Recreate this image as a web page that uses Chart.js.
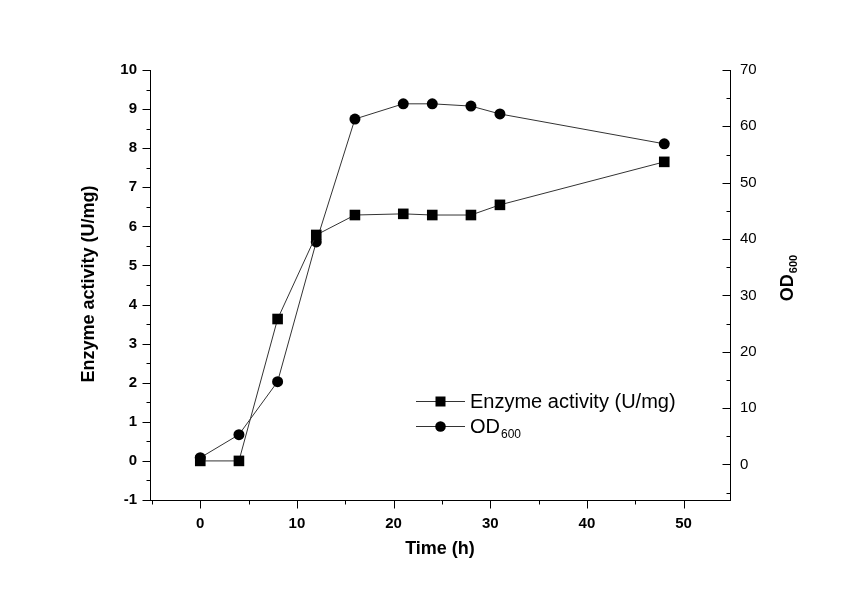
<!DOCTYPE html>
<html><head><meta charset="utf-8">
<script src="https://cdn.jsdelivr.net/npm/chart.js@4.4.0/dist/chart.umd.min.js"></script>
<style>html,body{margin:0;padding:0;background:#fff;}#wrap{width:848px;height:599px;position:relative;}</style>
</head><body><div id="wrap"><canvas id="c" width="848" height="599"></canvas></div>
<script>
const timeHours = [0, 4, 8, 12, 16, 21, 24, 28, 31, 48];
const enzymeActivity = [0, 0, 3.63, 5.78, 6.29, 6.32, 6.29, 6.29, 6.55, 7.65];
const od600 = [1.2, 5.3, 14.7, 39.5, 61.3, 64.0, 64.0, 63.6, 62.2, 56.9];
const xTickValues = [0, 10, 20, 30, 40, 50];
const xMinorValues = [-5, 5, 15, 25, 35, 45];
const leftTickValues = [-1, 0, 1, 2, 3, 4, 5, 6, 7, 8, 9, 10];
const leftMinorValues = [-0.5, 0.5, 1.5, 2.5, 3.5, 4.5, 5.5, 6.5, 7.5, 8.5, 9.5];
const rightTickValues = [0, 10, 20, 30, 40, 50, 60, 70];
const rightMinorValues = [-5, 5, 15, 25, 35, 45, 55, 65];

const FONT = '"Liberation Sans", Arial, sans-serif';

const tickPlugin = {
  id: 'originTicks',
  afterDraw(chart) {
    const ctx = chart.ctx;
    const xs = chart.scales.x, yl = chart.scales.y, yr = chart.scales.y1;
    ctx.save();
    ctx.strokeStyle = '#000';
    ctx.lineWidth = 1;
    ctx.beginPath();
    const xb = Math.round(xs.top) + 0.5;
    const addX = (vals, len) => vals.forEach(v => {
      if (v < xs.min || v > xs.max + 0.5) return;
      const p = Math.round(xs.getPixelForValue(v)) + 0.5;
      ctx.moveTo(p, xb); ctx.lineTo(p, xb + len);
    });
    addX(xTickValues, 8); addX(xMinorValues, 4);
    const lx = Math.round(yl.right) + 0.5;
    const addL = (vals, len) => vals.forEach(v => {
      const p = Math.round(yl.getPixelForValue(v)) + 0.5;
      ctx.moveTo(lx, p); ctx.lineTo(lx - len, p);
    });
    addL(leftTickValues, 8); addL(leftMinorValues, 4);
    const rx = Math.round(yr.left) + 0.5;
    const addR = (vals, len) => vals.forEach(v => {
      const p = Math.round(yr.getPixelForValue(v)) + 0.5;
      ctx.moveTo(rx, p); ctx.lineTo(rx - len, p);
    });
    addR(rightTickValues, 8); addR(rightMinorValues, 4);
    ctx.stroke();

    // legend
    const rows = [
      {y: 401, shape: 'rect', text: 'Enzyme activity (U/mg)'},
      {y: 426, shape: 'circle', text: 'OD', sub: '600'}
    ];
    rows.forEach(r => {
      ctx.strokeStyle = '#333';
      ctx.beginPath(); ctx.moveTo(416, r.y + 0.5); ctx.lineTo(465, r.y + 0.5); ctx.stroke();
      ctx.fillStyle = '#000';
      ctx.beginPath();
      if (r.shape === 'rect') ctx.rect(440.5 - 5, r.y + 0.5 - 5, 10, 10);
      else ctx.arc(440.5, r.y + 0.5, 5.3, 0, Math.PI * 2);
      ctx.fill();
      ctx.font = '20px ' + FONT;
      ctx.textAlign = 'left';
      ctx.textBaseline = 'alphabetic';
      ctx.fillText(r.text, 470, r.y + 7);
      if (r.sub) {
        const w = ctx.measureText(r.text).width;
        ctx.font = '12px ' + FONT;
        ctx.fillText(r.sub, 470 + w + 1, r.y + 12);
      }
    });

    // axis titles
    ctx.fillStyle = '#000';
    ctx.font = 'bold 18px ' + FONT;
    ctx.textAlign = 'center';
    ctx.textBaseline = 'middle';
    ctx.fillText('Time (h)', 440, 549);

    ctx.save();
    ctx.translate(89, 284);
    ctx.rotate(-Math.PI / 2);
    ctx.fillText('Enzyme activity (U/mg)', 0, 0);
    ctx.restore();

    ctx.save();
    ctx.translate(787, 278);
    ctx.rotate(-Math.PI / 2);
    ctx.font = 'bold 18px ' + FONT;
    const w1 = ctx.measureText('OD').width;
    ctx.font = 'bold 11px ' + FONT;
    const w2 = ctx.measureText('600').width;
    const start = -(w1 + w2 + 1) / 2;
    ctx.textAlign = 'left';
    ctx.textBaseline = 'alphabetic';
    ctx.font = 'bold 18px ' + FONT;
    ctx.fillText('OD', start, 6);
    ctx.font = 'bold 11px ' + FONT;
    ctx.fillText('600', start + w1 + 1, 10);
    ctx.restore();
    ctx.restore();
  }
};

const toPoints = (ys) => timeHours.map((t, i) => ({x: t, y: ys[i]}));

new Chart(document.getElementById('c'), {
  type: 'scatter',
  data: {
    datasets: [
      {
        label: 'Enzyme activity (U/mg)',
        data: toPoints(enzymeActivity),
        yAxisID: 'y',
        showLine: true,
        borderColor: '#333',
        borderWidth: 1,
        pointStyle: 'rect',
        pointRadius: 7.5,
        pointBackgroundColor: '#000',
        pointBorderColor: '#000',
        pointBorderWidth: 0
      },
      {
        label: 'OD600',
        data: toPoints(od600),
        yAxisID: 'y1',
        showLine: true,
        borderColor: '#333',
        borderWidth: 1,
        pointStyle: 'circle',
        pointRadius: 5.5,
        pointBackgroundColor: '#000',
        pointBorderColor: '#000',
        pointBorderWidth: 0
      }
    ]
  },
  options: {
    responsive: false,
    animation: false,
    devicePixelRatio: 1,
    layout: {padding: {top: 70, left: 0, right: 0, bottom: 0}},
    plugins: {legend: {display: false}, tooltip: {enabled: false}, title: {display: false}},
    scales: {
      x: {
        type: 'linear', position: 'bottom', min: -5.2, max: 54.8,
        afterBuildTicks: s => { s.ticks = xTickValues.map(v => ({value: v})); },
        afterFit: s => { s.height = 99; },
        grid: {display: false, drawTicks: false},
        border: {display: true, color: '#000', width: 1},
        ticks: {color: '#000', padding: 15, autoSkip: false, maxRotation: 0, font: {family: FONT, size: 15, weight: 'bold'}}
      },
      y: {
        type: 'linear', position: 'left', min: -1, max: 10,
        afterBuildTicks: s => { s.ticks = leftTickValues.map(v => ({value: v})); },
        afterFit: s => { s.width = 150; },
        grid: {display: false, drawTicks: false},
        border: {display: true, color: '#000', width: 1},
        ticks: {color: '#000', padding: 13, autoSkip: false, font: {family: FONT, size: 15, weight: 'bold'}}
      },
      y1: {
        type: 'linear', position: 'right', min: -6.3, max: 70,
        afterBuildTicks: s => { s.ticks = rightTickValues.map(v => ({value: v})); },
        afterFit: s => { s.width = 118; },
        grid: {display: false, drawTicks: false},
        border: {display: true, color: '#000', width: 1},
        ticks: {color: '#000', padding: 10, autoSkip: false, font: {family: FONT, size: 15}}
      }
    }
  },
  plugins: [tickPlugin]
});
</script></body></html>
